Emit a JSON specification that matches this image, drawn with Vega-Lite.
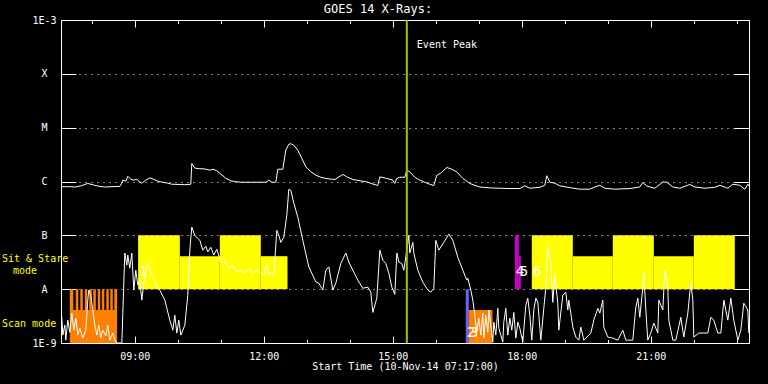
{
  "$schema": "https://vega.github.io/schema/vega-lite/v6.json",
  "width": 688,
  "height": 323,
  "autosize": {"type": "none"},
  "padding": {"left": 61, "top": 20, "right": 19, "bottom": 41},
  "background": "#000000",
  "config": {
    "view": {"stroke": null},
    "font": "DejaVu Sans Mono",
    "axis": {
      "domainColor": "#ffffff", "tickColor": "#ffffff", "labelColor": "#ffffff", "titleColor": "#ffffff",
      "labelFont": "DejaVu Sans Mono", "titleFont": "DejaVu Sans Mono", "labelFontSize": 10, "titleFontSize": 10,
      "titleFontWeight": "normal", "grid": false, "domainWidth": 1, "tickWidth": 1, "labelOverlap": false, "labelFlush": false
    }
  },
  "title": {"text": "GOES 14 X-Rays:", "color": "#ffffff", "font": "DejaVu Sans Mono", "fontSize": 12, "fontWeight": "normal", "anchor": "middle", "frame": "group", "dx": -27, "dy": 9, "offset": 8},
  "datasets": {
    "modes": [
      {"start": 9.076, "end": 10.047, "top": 1e-7, "bottom": 1e-8, "mode": "Sit & Stare"},
      {"start": 10.047, "end": 10.977, "top": 4.1e-8, "bottom": 1e-8, "mode": "Sit & Stare"},
      {"start": 10.977, "end": 11.930, "top": 1e-7, "bottom": 1e-8, "mode": "Sit & Stare"},
      {"start": 11.930, "end": 12.551, "top": 4.1e-8, "bottom": 1e-8, "mode": "Sit & Stare"},
      {"start": 18.232, "end": 19.186, "top": 1e-7, "bottom": 1e-8, "mode": "Sit & Stare"},
      {"start": 19.186, "end": 20.116, "top": 4.1e-8, "bottom": 1e-8, "mode": "Sit & Stare"},
      {"start": 20.116, "end": 21.070, "top": 1e-7, "bottom": 1e-8, "mode": "Sit & Stare"},
      {"start": 21.070, "end": 22.0, "top": 4.1e-8, "bottom": 1e-8, "mode": "Sit & Stare"},
      {"start": 22.0, "end": 22.953, "top": 1e-7, "bottom": 1e-8, "mode": "Sit & Stare"},
      {"start": 17.837, "end": 17.930, "top": 1e-7, "bottom": 1e-8, "mode": "Offpoint"},
      {"start": 17.930, "end": 17.977, "top": 4.1e-8, "bottom": 1e-8, "mode": "Offpoint"},
      {"start": 16.697, "end": 16.767, "top": 1e-8, "bottom": 1e-9, "mode": "Slew"},
      {"start": 16.767, "end": 17.318, "top": 4.1e-9, "bottom": 1e-9, "mode": "Scan"},
      {"start": 7.488, "end": 8.588, "top": 4.1e-9, "bottom": 1e-9, "mode": "Scan"},
      {"start": 7.488, "end": 7.569, "top": 1e-8, "bottom": 4.1e-9, "mode": "Scan"},
      {"start": 7.627, "end": 7.686, "top": 1e-8, "bottom": 4.1e-9, "mode": "Scan"},
      {"start": 7.732, "end": 7.790, "top": 1e-8, "bottom": 4.1e-9, "mode": "Scan"},
      {"start": 7.837, "end": 7.895, "top": 1e-8, "bottom": 4.1e-9, "mode": "Scan"},
      {"start": 7.941, "end": 7.999, "top": 1e-8, "bottom": 4.1e-9, "mode": "Scan"},
      {"start": 8.034, "end": 8.093, "top": 1e-8, "bottom": 4.1e-9, "mode": "Scan"},
      {"start": 8.139, "end": 8.197, "top": 1e-8, "bottom": 4.1e-9, "mode": "Scan"},
      {"start": 8.232, "end": 8.290, "top": 1e-8, "bottom": 4.1e-9, "mode": "Scan"},
      {"start": 8.337, "end": 8.395, "top": 1e-8, "bottom": 4.1e-9, "mode": "Scan"},
      {"start": 8.430, "end": 8.488, "top": 1e-8, "bottom": 4.1e-9, "mode": "Scan"},
      {"start": 8.523, "end": 8.588, "top": 1e-8, "bottom": 4.1e-9, "mode": "Scan"}
    ],
    "xray": [
      {"t": 7.290, "f": 8.0e-7, "ch": "long"}, {"t": 7.488, "f": 8.0e-7, "ch": "long"}, {"t": 7.627, "f": 7.9e-7, "ch": "long"},
      {"t": 7.767, "f": 8.4e-7, "ch": "long"}, {"t": 7.906, "f": 9.2e-7, "ch": "long"}, {"t": 8.069, "f": 8.5e-7, "ch": "long"},
      {"t": 8.186, "f": 8.1e-7, "ch": "long"}, {"t": 8.302, "f": 7.9e-7, "ch": "long"}, {"t": 8.465, "f": 8.0e-7, "ch": "long"},
      {"t": 8.651, "f": 8.1e-7, "ch": "long"}, {"t": 8.697, "f": 9.3e-7, "ch": "long"}, {"t": 8.720, "f": 1.06e-6, "ch": "long"},
      {"t": 8.790, "f": 1.01e-6, "ch": "long"}, {"t": 8.837, "f": 1.25e-6, "ch": "long"}, {"t": 8.906, "f": 1.10e-6, "ch": "long"},
      {"t": 8.976, "f": 1.06e-6, "ch": "long"}, {"t": 9.046, "f": 1.10e-6, "ch": "long"}, {"t": 9.093, "f": 1.01e-6, "ch": "long"},
      {"t": 9.162, "f": 9.3e-7, "ch": "long"}, {"t": 9.255, "f": 1.06e-6, "ch": "long"}, {"t": 9.349, "f": 1.17e-6, "ch": "long"},
      {"t": 9.442, "f": 1.10e-6, "ch": "long"}, {"t": 9.535, "f": 1.01e-6, "ch": "long"}, {"t": 9.651, "f": 9.7e-7, "ch": "long"},
      {"t": 9.767, "f": 9.3e-7, "ch": "long"}, {"t": 9.860, "f": 8.9e-7, "ch": "long"}, {"t": 10.046, "f": 8.8e-7, "ch": "long"},
      {"t": 10.163, "f": 8.7e-7, "ch": "long"}, {"t": 10.302, "f": 8.9e-7, "ch": "long"}, {"t": 10.325, "f": 2.16e-6, "ch": "long"},
      {"t": 10.395, "f": 1.77e-6, "ch": "long"}, {"t": 10.511, "f": 1.73e-6, "ch": "long"}, {"t": 10.628, "f": 1.71e-6, "ch": "long"},
      {"t": 10.744, "f": 1.62e-6, "ch": "long"}, {"t": 10.814, "f": 1.69e-6, "ch": "long"}, {"t": 10.907, "f": 1.59e-6, "ch": "long"},
      {"t": 11.000, "f": 1.37e-6, "ch": "long"}, {"t": 11.116, "f": 1.15e-6, "ch": "long"}, {"t": 11.232, "f": 1.03e-6, "ch": "long"},
      {"t": 11.349, "f": 9.9e-7, "ch": "long"}, {"t": 11.465, "f": 9.7e-7, "ch": "long"}, {"t": 11.697, "f": 9.7e-7, "ch": "long"},
      {"t": 11.930, "f": 9.7e-7, "ch": "long"}, {"t": 12.046, "f": 9.7e-7, "ch": "long"}, {"t": 12.116, "f": 1.06e-6, "ch": "long"},
      {"t": 12.186, "f": 9.7e-7, "ch": "long"}, {"t": 12.279, "f": 9.7e-7, "ch": "long"}, {"t": 12.325, "f": 1.69e-6, "ch": "long"},
      {"t": 12.442, "f": 1.69e-6, "ch": "long"}, {"t": 12.511, "f": 3.81e-6, "ch": "long"}, {"t": 12.581, "f": 4.92e-6, "ch": "long"},
      {"t": 12.628, "f": 5.03e-6, "ch": "long"}, {"t": 12.697, "f": 4.72e-6, "ch": "long"}, {"t": 12.790, "f": 3.81e-6, "ch": "long"},
      {"t": 12.883, "f": 2.71e-6, "ch": "long"}, {"t": 12.977, "f": 1.87e-6, "ch": "long"}, {"t": 13.093, "f": 1.52e-6, "ch": "long"},
      {"t": 13.209, "f": 1.31e-6, "ch": "long"}, {"t": 13.325, "f": 1.20e-6, "ch": "long"}, {"t": 13.442, "f": 1.14e-6, "ch": "long"},
      {"t": 13.581, "f": 1.10e-6, "ch": "long"}, {"t": 13.651, "f": 1.09e-6, "ch": "long"}, {"t": 13.837, "f": 1.35e-6, "ch": "long"},
      {"t": 13.930, "f": 1.22e-6, "ch": "long"}, {"t": 14.070, "f": 1.09e-6, "ch": "long"}, {"t": 14.395, "f": 9.8e-7, "ch": "long"},
      {"t": 14.628, "f": 8.5e-7, "ch": "long"}, {"t": 14.651, "f": 8.5e-7, "ch": "long"}, {"t": 14.697, "f": 1.22e-6, "ch": "long"},
      {"t": 14.837, "f": 1.15e-6, "ch": "long"}, {"t": 15.000, "f": 1.06e-6, "ch": "long"}, {"t": 15.046, "f": 9.2e-7, "ch": "long"},
      {"t": 15.093, "f": 1.14e-6, "ch": "long"}, {"t": 15.162, "f": 1.20e-6, "ch": "long"}, {"t": 15.279, "f": 1.20e-6, "ch": "long"},
      {"t": 15.325, "f": 1.62e-6, "ch": "long"}, {"t": 15.395, "f": 1.51e-6, "ch": "long"}, {"t": 15.512, "f": 1.20e-6, "ch": "long"},
      {"t": 15.628, "f": 1.06e-6, "ch": "long"}, {"t": 15.744, "f": 9.7e-7, "ch": "long"}, {"t": 15.860, "f": 8.9e-7, "ch": "long"},
      {"t": 15.953, "f": 8.4e-7, "ch": "long"}, {"t": 16.023, "f": 1.31e-6, "ch": "long"}, {"t": 16.116, "f": 1.43e-6, "ch": "long"},
      {"t": 16.256, "f": 1.82e-6, "ch": "long"}, {"t": 16.372, "f": 1.69e-6, "ch": "long"}, {"t": 16.488, "f": 1.51e-6, "ch": "long"},
      {"t": 16.628, "f": 1.14e-6, "ch": "long"}, {"t": 16.791, "f": 9.2e-7, "ch": "long"}, {"t": 16.907, "f": 8.5e-7, "ch": "long"},
      {"t": 17.023, "f": 7.9e-7, "ch": "long"}, {"t": 17.256, "f": 7.6e-7, "ch": "long"}, {"t": 17.488, "f": 7.5e-7, "ch": "long"},
      {"t": 17.721, "f": 7.4e-7, "ch": "long"}, {"t": 17.953, "f": 7.4e-7, "ch": "long"}, {"t": 18.070, "f": 8.3e-7, "ch": "long"},
      {"t": 18.186, "f": 7.5e-7, "ch": "long"}, {"t": 18.419, "f": 7.8e-7, "ch": "long"}, {"t": 18.535, "f": 8.5e-7, "ch": "long"},
      {"t": 18.581, "f": 1.28e-6, "ch": "long"}, {"t": 18.651, "f": 9.7e-7, "ch": "long"}, {"t": 18.767, "f": 9.3e-7, "ch": "long"},
      {"t": 18.883, "f": 8.3e-7, "ch": "long"}, {"t": 19.116, "f": 7.7e-7, "ch": "long"}, {"t": 19.349, "f": 7.2e-7, "ch": "long"},
      {"t": 19.581, "f": 7.2e-7, "ch": "long"}, {"t": 19.698, "f": 7.9e-7, "ch": "long"}, {"t": 19.814, "f": 8.5e-7, "ch": "long"},
      {"t": 19.930, "f": 7.5e-7, "ch": "long"}, {"t": 20.163, "f": 7.2e-7, "ch": "long"}, {"t": 20.512, "f": 7.4e-7, "ch": "long"},
      {"t": 20.744, "f": 7.9e-7, "ch": "long"}, {"t": 20.814, "f": 9.6e-7, "ch": "long"}, {"t": 20.907, "f": 8.2e-7, "ch": "long"},
      {"t": 21.093, "f": 7.5e-7, "ch": "long"}, {"t": 21.279, "f": 9.8e-7, "ch": "long"}, {"t": 21.372, "f": 9.7e-7, "ch": "long"},
      {"t": 21.512, "f": 7.9e-7, "ch": "long"}, {"t": 21.674, "f": 7.5e-7, "ch": "long"}, {"t": 21.907, "f": 8.8e-7, "ch": "long"},
      {"t": 22.023, "f": 7.9e-7, "ch": "long"}, {"t": 22.256, "f": 7.5e-7, "ch": "long"}, {"t": 22.488, "f": 7.8e-7, "ch": "long"},
      {"t": 22.605, "f": 8.5e-7, "ch": "long"}, {"t": 22.791, "f": 7.5e-7, "ch": "long"}, {"t": 22.907, "f": 8.9e-7, "ch": "long"},
      {"t": 23.070, "f": 8.5e-7, "ch": "long"}, {"t": 23.186, "f": 7.2e-7, "ch": "long"}, {"t": 23.256, "f": 8.9e-7, "ch": "long"},
      {"t": 23.283, "f": 8.2e-7, "ch": "long"},
      {"t": 7.302, "f": 3.06e-9, "ch": "short"}, {"t": 7.325, "f": 1.40e-9, "ch": "short"}, {"t": 7.372, "f": 2.15e-9, "ch": "short"},
      {"t": 7.395, "f": 1.13e-9, "ch": "short"}, {"t": 7.441, "f": 2.66e-9, "ch": "short"}, {"t": 7.488, "f": 1.58e-9, "ch": "short"},
      {"t": 7.535, "f": 3.6e-9, "ch": "short"}, {"t": 7.581, "f": 1.73e-9, "ch": "short"}, {"t": 7.628, "f": 2.9e-9, "ch": "short"},
      {"t": 7.674, "f": 1.40e-9, "ch": "short"}, {"t": 7.721, "f": 1.89e-9, "ch": "short"}, {"t": 7.790, "f": 1.23e-9, "ch": "short"},
      {"t": 7.860, "f": 1.73e-9, "ch": "short"}, {"t": 7.907, "f": 6.25e-9, "ch": "short"}, {"t": 7.930, "f": 9.6e-9, "ch": "short"},
      {"t": 7.976, "f": 7.7e-9, "ch": "short"}, {"t": 8.023, "f": 4.1e-9, "ch": "short"}, {"t": 8.070, "f": 2.15e-9, "ch": "short"},
      {"t": 8.116, "f": 1.40e-9, "ch": "short"}, {"t": 8.163, "f": 2.15e-9, "ch": "short"}, {"t": 8.209, "f": 1.23e-9, "ch": "short"},
      {"t": 8.256, "f": 1.73e-9, "ch": "short"}, {"t": 8.325, "f": 1.35e-9, "ch": "short"}, {"t": 8.372, "f": 2.15e-9, "ch": "short"},
      {"t": 8.418, "f": 1.13e-9, "ch": "short"}, {"t": 8.488, "f": 1.53e-9, "ch": "short"}, {"t": 8.535, "f": 1.13e-9, "ch": "short"},
      {"t": 8.581, "f": 1.0e-9, "ch": "short"}, {"t": 8.698, "f": 1.0e-9, "ch": "short"}, {"t": 8.767, "f": 4.7e-8, "ch": "short"},
      {"t": 8.814, "f": 2.8e-8, "ch": "short"}, {"t": 8.837, "f": 4.3e-8, "ch": "short"}, {"t": 8.883, "f": 2.45e-8, "ch": "short"},
      {"t": 8.930, "f": 4.7e-8, "ch": "short"}, {"t": 8.977, "f": 9.6e-9, "ch": "short"}, {"t": 9.023, "f": 2.25e-8, "ch": "short"},
      {"t": 9.070, "f": 1.19e-8, "ch": "short"}, {"t": 9.116, "f": 1.47e-8, "ch": "short"}, {"t": 9.163, "f": 6.25e-9, "ch": "short"},
      {"t": 9.232, "f": 1.82e-8, "ch": "short"}, {"t": 9.302, "f": 3.0e-8, "ch": "short"}, {"t": 9.349, "f": 2.25e-8, "ch": "short"},
      {"t": 9.465, "f": 1.35e-8, "ch": "short"}, {"t": 9.581, "f": 9.6e-9, "ch": "short"}, {"t": 9.698, "f": 6.25e-9, "ch": "short"},
      {"t": 9.814, "f": 2.66e-9, "ch": "short"}, {"t": 9.884, "f": 1.73e-9, "ch": "short"}, {"t": 9.930, "f": 3.3e-9, "ch": "short"},
      {"t": 9.977, "f": 1.53e-9, "ch": "short"}, {"t": 10.023, "f": 2.66e-9, "ch": "short"}, {"t": 10.070, "f": 1.40e-9, "ch": "short"},
      {"t": 10.163, "f": 2.15e-9, "ch": "short"}, {"t": 10.232, "f": 7.7e-9, "ch": "short"}, {"t": 10.279, "f": 5.3e-8, "ch": "short"},
      {"t": 10.325, "f": 1.43e-7, "ch": "short"}, {"t": 10.395, "f": 1.0e-7, "ch": "short"}, {"t": 10.512, "f": 8.1e-8, "ch": "short"},
      {"t": 10.581, "f": 5.3e-8, "ch": "short"}, {"t": 10.651, "f": 6.3e-8, "ch": "short"}, {"t": 10.698, "f": 4.9e-8, "ch": "short"},
      {"t": 10.767, "f": 6.0e-8, "ch": "short"}, {"t": 10.837, "f": 4.3e-8, "ch": "short"}, {"t": 10.907, "f": 5.5e-8, "ch": "short"},
      {"t": 11.000, "f": 3.2e-8, "ch": "short"}, {"t": 11.093, "f": 3.2e-8, "ch": "short"}, {"t": 11.186, "f": 2.45e-8, "ch": "short"},
      {"t": 11.279, "f": 2.7e-8, "ch": "short"}, {"t": 11.372, "f": 2.07e-8, "ch": "short"}, {"t": 11.465, "f": 2.25e-8, "ch": "short"},
      {"t": 11.558, "f": 1.98e-8, "ch": "short"}, {"t": 11.651, "f": 2.45e-8, "ch": "short"}, {"t": 11.744, "f": 1.98e-8, "ch": "short"},
      {"t": 11.837, "f": 2.25e-8, "ch": "short"}, {"t": 11.930, "f": 1.98e-8, "ch": "short"}, {"t": 12.000, "f": 1.82e-8, "ch": "short"},
      {"t": 12.070, "f": 3.0e-8, "ch": "short"}, {"t": 12.116, "f": 1.82e-8, "ch": "short"}, {"t": 12.163, "f": 2.07e-8, "ch": "short"},
      {"t": 12.232, "f": 1.82e-8, "ch": "short"}, {"t": 12.302, "f": 1.24e-7, "ch": "short"}, {"t": 12.349, "f": 1.0e-7, "ch": "short"},
      {"t": 12.395, "f": 7.4e-8, "ch": "short"}, {"t": 12.465, "f": 9.2e-8, "ch": "short"}, {"t": 12.535, "f": 2.36e-7, "ch": "short"},
      {"t": 12.581, "f": 7.17e-7, "ch": "short"}, {"t": 12.628, "f": 6.87e-7, "ch": "short"}, {"t": 12.698, "f": 3.94e-7, "ch": "short"},
      {"t": 12.791, "f": 2.17e-7, "ch": "short"}, {"t": 12.907, "f": 8.1e-8, "ch": "short"}, {"t": 13.046, "f": 2.6e-8, "ch": "short"},
      {"t": 13.209, "f": 1.37e-8, "ch": "short"}, {"t": 13.279, "f": 1.29e-8, "ch": "short"}, {"t": 13.372, "f": 9.6e-9, "ch": "short"},
      {"t": 13.442, "f": 2.25e-8, "ch": "short"}, {"t": 13.512, "f": 2.6e-8, "ch": "short"}, {"t": 13.605, "f": 9.6e-9, "ch": "short"},
      {"t": 13.674, "f": 1.29e-8, "ch": "short"}, {"t": 13.791, "f": 3.0e-8, "ch": "short"}, {"t": 13.907, "f": 4.7e-8, "ch": "short"},
      {"t": 13.977, "f": 3.2e-8, "ch": "short"}, {"t": 14.070, "f": 2.25e-8, "ch": "short"}, {"t": 14.186, "f": 1.47e-8, "ch": "short"},
      {"t": 14.302, "f": 1.04e-8, "ch": "short"}, {"t": 14.419, "f": 1.09e-8, "ch": "short"}, {"t": 14.488, "f": 8.8e-9, "ch": "short"},
      {"t": 14.535, "f": 3.7e-9, "ch": "short"}, {"t": 14.581, "f": 5.0e-9, "ch": "short"}, {"t": 14.628, "f": 6.8e-9, "ch": "short"},
      {"t": 14.698, "f": 5.3e-8, "ch": "short"}, {"t": 14.767, "f": 3.45e-8, "ch": "short"}, {"t": 14.837, "f": 3.0e-8, "ch": "short"},
      {"t": 14.907, "f": 1.98e-8, "ch": "short"}, {"t": 14.977, "f": 1.09e-8, "ch": "short"}, {"t": 15.047, "f": 8.0e-9, "ch": "short"},
      {"t": 15.093, "f": 4.7e-8, "ch": "short"}, {"t": 15.139, "f": 3.2e-8, "ch": "short"}, {"t": 15.209, "f": 3.0e-8, "ch": "short"},
      {"t": 15.256, "f": 2.25e-8, "ch": "short"}, {"t": 15.326, "f": 5.3e-8, "ch": "short"}, {"t": 15.372, "f": 1.0e-7, "ch": "short"},
      {"t": 15.395, "f": 4.7e-8, "ch": "short"}, {"t": 15.465, "f": 7.4e-8, "ch": "short"}, {"t": 15.488, "f": 4.7e-8, "ch": "short"},
      {"t": 15.581, "f": 2.25e-8, "ch": "short"}, {"t": 15.698, "f": 1.35e-8, "ch": "short"}, {"t": 15.814, "f": 9.6e-9, "ch": "short"},
      {"t": 15.884, "f": 8.8e-9, "ch": "short"}, {"t": 15.953, "f": 1.04e-8, "ch": "short"}, {"t": 16.000, "f": 8.1e-8, "ch": "short"},
      {"t": 16.070, "f": 5.3e-8, "ch": "short"}, {"t": 16.186, "f": 7.4e-8, "ch": "short"}, {"t": 16.302, "f": 1.05e-7, "ch": "short"},
      {"t": 16.395, "f": 8.1e-8, "ch": "short"}, {"t": 16.512, "f": 3.9e-8, "ch": "short"}, {"t": 16.628, "f": 2.25e-8, "ch": "short"},
      {"t": 16.721, "f": 1.47e-8, "ch": "short"}, {"t": 16.744, "f": 1.6e-8, "ch": "short"}, {"t": 16.814, "f": 9.6e-9, "ch": "short"},
      {"t": 16.860, "f": 6.25e-9, "ch": "short"}, {"t": 16.907, "f": 3.3e-9, "ch": "short"}, {"t": 16.953, "f": 1.58e-9, "ch": "short"},
      {"t": 17.000, "f": 2.9e-9, "ch": "short"}, {"t": 17.046, "f": 1.40e-9, "ch": "short"}, {"t": 17.093, "f": 3.6e-9, "ch": "short"},
      {"t": 17.116, "f": 1.23e-9, "ch": "short"}, {"t": 17.163, "f": 3.3e-9, "ch": "short"}, {"t": 17.209, "f": 1.58e-9, "ch": "short"},
      {"t": 17.233, "f": 4.1e-9, "ch": "short"}, {"t": 17.279, "f": 2.15e-9, "ch": "short"}, {"t": 17.326, "f": 1.04e-9, "ch": "short"},
      {"t": 17.349, "f": 2.44e-9, "ch": "short"}, {"t": 17.395, "f": 1.40e-9, "ch": "short"}, {"t": 17.442, "f": 4.4e-9, "ch": "short"},
      {"t": 17.465, "f": 1.89e-9, "ch": "short"}, {"t": 17.558, "f": 1.04e-9, "ch": "short"}, {"t": 17.581, "f": 2.44e-9, "ch": "short"},
      {"t": 17.628, "f": 4.4e-9, "ch": "short"}, {"t": 17.674, "f": 1.40e-9, "ch": "short"}, {"t": 17.721, "f": 2.9e-9, "ch": "short"},
      {"t": 17.767, "f": 1.73e-9, "ch": "short"}, {"t": 17.814, "f": 3.7e-9, "ch": "short"}, {"t": 17.860, "f": 1.23e-9, "ch": "short"},
      {"t": 17.907, "f": 2.44e-9, "ch": "short"}, {"t": 17.953, "f": 1.89e-9, "ch": "short"}, {"t": 18.023, "f": 1.04e-9, "ch": "short"},
      {"t": 18.093, "f": 5.0e-9, "ch": "short"}, {"t": 18.139, "f": 6.8e-9, "ch": "short"}, {"t": 18.186, "f": 3.3e-9, "ch": "short"},
      {"t": 18.232, "f": 1.13e-9, "ch": "short"}, {"t": 18.279, "f": 4.1e-9, "ch": "short"}, {"t": 18.326, "f": 6.8e-9, "ch": "short"},
      {"t": 18.372, "f": 5.7e-9, "ch": "short"}, {"t": 18.442, "f": 1.13e-9, "ch": "short"}, {"t": 18.558, "f": 1.09e-8, "ch": "short"},
      {"t": 18.605, "f": 6.0e-8, "ch": "short"}, {"t": 18.674, "f": 3.0e-8, "ch": "short"}, {"t": 18.721, "f": 5.7e-9, "ch": "short"},
      {"t": 18.767, "f": 1.82e-8, "ch": "short"}, {"t": 18.837, "f": 5.5e-9, "ch": "short"}, {"t": 18.860, "f": 1.73e-9, "ch": "short"},
      {"t": 18.953, "f": 7.7e-9, "ch": "short"}, {"t": 19.023, "f": 8.8e-9, "ch": "short"}, {"t": 19.070, "f": 4.1e-9, "ch": "short"},
      {"t": 19.093, "f": 6.25e-9, "ch": "short"}, {"t": 19.139, "f": 3.6e-9, "ch": "short"}, {"t": 19.186, "f": 1.97e-9, "ch": "short"},
      {"t": 19.256, "f": 1.29e-9, "ch": "short"}, {"t": 19.326, "f": 1.13e-9, "ch": "short"}, {"t": 19.372, "f": 1.97e-9, "ch": "short"},
      {"t": 19.442, "f": 1.13e-9, "ch": "short"}, {"t": 19.605, "f": 1.53e-9, "ch": "short"}, {"t": 19.674, "f": 2.66e-9, "ch": "short"},
      {"t": 19.768, "f": 4.4e-9, "ch": "short"}, {"t": 19.814, "f": 3.6e-9, "ch": "short"}, {"t": 19.884, "f": 6.25e-9, "ch": "short"},
      {"t": 19.907, "f": 1.97e-9, "ch": "short"}, {"t": 20.000, "f": 1.29e-9, "ch": "short"}, {"t": 20.116, "f": 1.23e-9, "ch": "short"},
      {"t": 20.233, "f": 1.13e-9, "ch": "short"}, {"t": 20.349, "f": 1.73e-9, "ch": "short"}, {"t": 20.419, "f": 1.13e-9, "ch": "short"},
      {"t": 20.581, "f": 1.13e-9, "ch": "short"}, {"t": 20.651, "f": 4.6e-9, "ch": "short"}, {"t": 20.698, "f": 6.8e-9, "ch": "short"},
      {"t": 20.744, "f": 3.0e-9, "ch": "short"}, {"t": 20.814, "f": 1.09e-8, "ch": "short"}, {"t": 20.837, "f": 1.98e-8, "ch": "short"},
      {"t": 20.884, "f": 4.1e-9, "ch": "short"}, {"t": 20.930, "f": 1.13e-9, "ch": "short"}, {"t": 21.000, "f": 1.53e-9, "ch": "short"},
      {"t": 21.070, "f": 2.34e-9, "ch": "short"}, {"t": 21.163, "f": 1.53e-9, "ch": "short"}, {"t": 21.186, "f": 6.25e-9, "ch": "short"},
      {"t": 21.279, "f": 4.1e-9, "ch": "short"}, {"t": 21.326, "f": 2.25e-8, "ch": "short"}, {"t": 21.395, "f": 1.09e-8, "ch": "short"},
      {"t": 21.419, "f": 2.66e-9, "ch": "short"}, {"t": 21.512, "f": 1.13e-9, "ch": "short"}, {"t": 21.581, "f": 1.13e-9, "ch": "short"},
      {"t": 21.698, "f": 3.0e-9, "ch": "short"}, {"t": 21.767, "f": 1.29e-9, "ch": "short"}, {"t": 21.861, "f": 3.6e-9, "ch": "short"},
      {"t": 21.930, "f": 1.35e-8, "ch": "short"}, {"t": 21.977, "f": 6.25e-9, "ch": "short"}, {"t": 22.000, "f": 1.29e-9, "ch": "short"},
      {"t": 22.116, "f": 1.53e-9, "ch": "short"}, {"t": 22.233, "f": 1.53e-9, "ch": "short"}, {"t": 22.326, "f": 1.53e-9, "ch": "short"},
      {"t": 22.395, "f": 3.0e-9, "ch": "short"}, {"t": 22.465, "f": 2.66e-9, "ch": "short"}, {"t": 22.558, "f": 1.53e-9, "ch": "short"},
      {"t": 22.628, "f": 1.53e-9, "ch": "short"}, {"t": 22.698, "f": 6.25e-9, "ch": "short"}, {"t": 22.791, "f": 2.66e-9, "ch": "short"},
      {"t": 22.861, "f": 6.8e-9, "ch": "short"}, {"t": 22.930, "f": 2.66e-9, "ch": "short"}, {"t": 23.023, "f": 1.13e-9, "ch": "short"},
      {"t": 23.093, "f": 1.73e-9, "ch": "short"}, {"t": 23.163, "f": 5.5e-9, "ch": "short"}, {"t": 23.256, "f": 4.1e-9, "ch": "short"},
      {"t": 23.279, "f": 1.53e-9, "ch": "short"}
    ],
    "event": [{"t": 15.326, "f": 3.5e-4, "label": "Event Peak"}],
    "numbers": [
      {"t": 9.076, "f": 2.07e-8, "label": "1"},
      {"t": 16.697, "f": 1.53e-9, "label": "2"},
      {"t": 16.767, "f": 1.53e-9, "label": "3"},
      {"t": 17.837, "f": 2.1e-8, "label": "4"},
      {"t": 17.930, "f": 2.1e-8, "label": "5"},
      {"t": 18.232, "f": 2.1e-8, "label": "6"}
    ],
    "side": [
      {"t": 7.2833, "f": 3.57e-8, "label": "Sit & Stare", "row": 1},
      {"t": 7.2833, "f": 2.17e-8, "label": "mode", "row": 2},
      {"t": 7.2833, "f": 2.22e-9, "label": "Scan mode", "row": 1}
    ]
  },
  "layer": [
    {
      "data": {"name": "modes"},
      "mark": {"type": "rect"},
      "encoding": {
        "x": {"field": "start", "type": "quantitative", "scale": {"domain": [7.2833, 23.2833], "nice": false, "zero": false},
              "axis": {"orient": "top", "values": [9, 12, 15, 18, 21], "tickSize": -7, "labels": false, "title": null, "domain": true}},
        "x2": {"field": "end"},
        "y": {"field": "top", "type": "quantitative", "scale": {"type": "log", "domain": [1e-9, 1e-3], "nice": false},
              "axis": {"orient": "right", "values": [1e-9, 1e-8, 1e-7, 1e-6, 1e-5, 1e-4, 1e-3], "tickSize": -15, "labels": false, "title": null, "domain": true}},
        "y2": {"field": "bottom"},
        "color": {"field": "mode", "type": "nominal", "legend": null,
                  "scale": {"domain": ["Sit & Stare", "Scan", "Offpoint", "Slew"], "range": ["#ffff00", "#ff8000", "#c800c8", "#6464ff"]}}
      }
    },
    {
      "data": {"name": "xray"},
      "mark": {"type": "line", "color": "#ffffff", "strokeWidth": 1},
      "encoding": {
        "x": {"field": "t", "type": "quantitative", "scale": {"domain": [7.2833, 23.2833], "nice": false, "zero": false},
              "axis": {"orient": "bottom", "values": [9, 12, 15, 18, 21], "tickSize": -7, "labelPadding": 15, "labelBaseline": "top",
                       "labelExpr": "(datum.value < 10 ? '0' : '') + datum.value + ':00'",
                       "title": "Start Time (10-Nov-14 07:17:00)", "titlePadding": 0, "domain": true}},
        "y": {"field": "f", "type": "quantitative", "scale": {"type": "log", "domain": [1e-9, 1e-3], "nice": false},
              "axis": {"orient": "left", "values": [1e-9, 1e-8, 1e-7, 1e-6, 1e-5, 1e-4, 1e-3], "tickSize": -15, "labelPadding": 32,
                       "labelAlign": "center", "labelBaseline": "middle",
                       "labelExpr": "datum.value > 5e-4 ? '1E-3' : datum.value > 5e-5 ? 'X' : datum.value > 5e-6 ? 'M' : datum.value > 5e-7 ? 'C' : datum.value > 5e-8 ? 'B' : datum.value > 5e-9 ? 'A' : '1E-9'",
                       "title": null, "domain": true, "grid": true, "gridColor": "#ffffff", "gridDash": [1, 5],
                       "gridOpacity": {"condition": {"test": "datum.value > 2e-9 && datum.value < 5e-4", "value": 1}, "value": 0}}},
        "detail": {"field": "ch", "type": "nominal"}
      }
    },
    {
      "data": {"name": "event"},
      "mark": {"type": "rule", "color": "#96c800", "strokeWidth": 2},
      "encoding": {
        "x": {"field": "t", "type": "quantitative", "scale": {"domain": [7.2833, 23.2833], "nice": false, "zero": false},
              "axis": {"orient": "bottom", "values": [8, 10, 11, 13, 14, 16, 17, 19, 20, 22, 23], "tickSize": -3.5, "labels": false, "title": null, "domain": false}}
      }
    },
    {
      "data": {"name": "event"},
      "mark": {"type": "text", "color": "#ffffff", "align": "left", "baseline": "middle", "dx": 10, "font": "DejaVu Sans Mono", "fontSize": 10},
      "encoding": {
        "x": {"field": "t", "type": "quantitative", "scale": {"domain": [7.2833, 23.2833], "nice": false, "zero": false},
              "axis": {"orient": "top", "values": [8, 10, 11, 13, 14, 16, 17, 19, 20, 22, 23], "tickSize": -3.5, "labels": false, "title": null, "domain": false}},
        "y": {"field": "f", "type": "quantitative", "scale": {"type": "log", "domain": [1e-9, 1e-3], "nice": false}, "axis": null},
        "text": {"field": "label"}
      }
    },
    {
      "data": {"name": "numbers"},
      "mark": {"type": "text", "color": "#ffffff", "align": "left", "baseline": "middle", "dx": 1, "font": "DejaVu Sans Mono", "fontSize": 14},
      "encoding": {
        "x": {"field": "t", "type": "quantitative", "scale": {"domain": [7.2833, 23.2833], "nice": false, "zero": false}, "axis": null},
        "y": {"field": "f", "type": "quantitative", "scale": {"type": "log", "domain": [1e-9, 1e-3], "nice": false}, "axis": null},
        "text": {"field": "label"}
      }
    },
    {
      "data": {"name": "side"},
      "transform": [{"filter": "datum.row === 1"}],
      "mark": {"type": "text", "color": "#ffff00", "align": "left", "baseline": "middle", "dx": -59, "font": "DejaVu Sans Mono", "fontSize": 10},
      "encoding": {
        "x": {"field": "t", "type": "quantitative", "scale": {"domain": [7.2833, 23.2833], "nice": false, "zero": false}, "axis": null},
        "y": {"field": "f", "type": "quantitative", "scale": {"type": "log", "domain": [1e-9, 1e-3], "nice": false}, "axis": null},
        "text": {"field": "label"}
      }
    },
    {
      "data": {"name": "side"},
      "transform": [{"filter": "datum.row === 2"}],
      "mark": {"type": "text", "color": "#ffff00", "align": "left", "baseline": "middle", "dx": -48, "font": "DejaVu Sans Mono", "fontSize": 10},
      "encoding": {
        "x": {"field": "t", "type": "quantitative", "scale": {"domain": [7.2833, 23.2833], "nice": false, "zero": false}, "axis": null},
        "y": {"field": "f", "type": "quantitative", "scale": {"type": "log", "domain": [1e-9, 1e-3], "nice": false}, "axis": null},
        "text": {"field": "label"}
      }
    }
  ],
  "resolve": {"axis": {"x": "independent", "y": "independent"}}
}
